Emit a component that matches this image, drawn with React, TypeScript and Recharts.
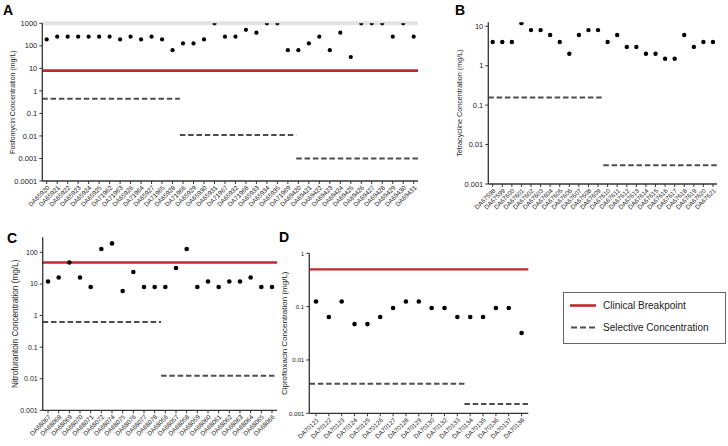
import React from "react";
import { ScatterChart, Scatter, XAxis, YAxis, ReferenceLine } from "recharts";

// ---- data (MIC values in mg/L) ----

const fosfoStrains = [
  "DA65920", "DA65921", "DA65922", "DA65923", "DA65924", "DA65925", "DA71962", "DA71963", "DA65926",
  "DA71964", "DA65927", "DA71965", "DA65928", "DA71966", "DA65929", "DA65930", "DA65931", "DA71967",
  "DA65932", "DA71968", "DA65933", "DA65934", "DA65935", "DA71969", "DA69420", "DA69421", "DA69422",
  "DA69423", "DA69424", "DA69425", "DA69426", "DA69427", "DA69428", "DA69429", "DA69430", "DA69431",
];
const fosfoMic = [
  192, 256, 256, 256, 256, 256, 256, 192, 256, 192, 256, 192, 64, 128, 128, 192, 1000, 256,
  256, 512, 384, 1000, 1000, 64, 64, 128, 256, 64, 384, 32, 1000, 1000, 1000, 256, 1000, 256,
];
const fosfoSelective = [
  { from: 0.5, to: 13.7, conc: 0.45 },
  { from: 13.7, to: 24.8, conc: 0.011 },
  { from: 24.8, to: 36.5, conc: 0.001 },
];
const fosfoBreakpoint = 8;
const fosfoCeiling = 1000;

const tetraStrains = [
  "DA67598", "DA67599", "DA67600", "DA67601", "DA67602", "DA67603", "DA67604", "DA67605",
  "DA67606", "DA67607", "DA67608", "DA67609", "DA67610", "DA67611", "DA67612", "DA67613",
  "DA67614", "DA67615", "DA67616", "DA67617", "DA67618", "DA67619", "DA67620", "DA67621",
];
const tetraMic = [4, 4, 4, 12, 8, 8, 6, 4, 2, 6, 8, 8, 4, 6, 3, 3, 2, 2, 1.5, 1.5, 6, 3, 4, 4];
const tetraSelective = [
  { from: 0.5, to: 12.55, conc: 0.155 },
  { from: 12.55, to: 24.5, conc: 0.003 },
];

const nitroStrains = [
  "DA68067", "DA68068", "DA68069", "DA68070", "DA68071", "DA68072", "DA68074", "DA68075",
  "DA68076", "DA68077", "DA68078", "DA68056", "DA68057", "DA68058", "DA68059", "DA68060",
  "DA68061", "DA68062", "DA68063", "DA68064", "DA68065", "DA68066",
];
const nitroMic = [12, 16, 48, 16, 8, 128, 192, 6, 24, 8, 8, 8, 32, 128, 8, 12, 8, 12, 12, 16, 8, 8];
const nitroSelective = [
  { from: 0.5, to: 11.6, conc: 0.63 },
  { from: 11.6, to: 22.5, conc: 0.0125 },
];
const nitroBreakpoint = 48;

const ciproStrains = [
  "DA70121", "DA70122", "DA70123", "DA70124", "DA70125", "DA70126", "DA70127", "DA70128", "DA70129",
  "DA70130", "DA70132", "DA70133", "DA70134", "DA70135", "DA70136", "DA70137", "DA70138",
];
const ciproMic = [
  0.125, 0.064, 0.125, 0.047, 0.047, 0.064, 0.094, 0.125, 0.125, 0.094, 0.094, 0.064, 0.064,
  0.064, 0.094, 0.094, 0.032,
];
const ciproSelective = [
  { from: 0.5, to: 12.55, conc: 0.0036 },
  { from: 12.55, to: 17.5, conc: 0.0015 },
];
const ciproBreakpoint = 0.5;

const legendItems = ["Clinical Breakpoint", "Selective Concentration"];

// ---- styling ----
const FONT = '"Liberation Sans", Arial, Helvetica, sans-serif';
const RED = "#c1272d";
const DASH = "#4d4d4d";
const AXIS = "#333";

type Segment = { from: number; to: number; conc: number };

interface PanelProps {
  strains: string[];
  mic: number[];
  selective: Segment[];
  breakpoint?: number;
  ceiling?: number;
  yLabel: string;
  yTicks: number[];
  yDomain: [number, number];
  xDomain: [number, number];
  left: number;
  top: number;
  width: number;
  height: number;
  marginTop: number;
  marginRight: number;
  yAxisWidth: number;
  xAxisHeight: number;
  labelOffset: number;
  tickFont: number;
  xTickFont: number;
  labelFont: number;
  dotR: number;
  redWidth: number;
}

function Panel(p: PanelProps) {
  const data = p.strains.map((s, i) => ({ x: i + 1, y: p.mic[i], strain: s }));
  const xTicks = p.strains.map((_, i) => i + 1);
  const clampX = (v: number) => Math.min(Math.max(v, p.xDomain[0]), p.xDomain[1]);

  return (
    <div style={{ position: "absolute", left: p.left, top: p.top }}>
      <ScatterChart
        width={p.width}
        height={p.height}
        margin={{ top: p.marginTop, right: p.marginRight, bottom: 0, left: 0 }}
        style={{ fontFamily: FONT }}
      >
        <XAxis
          type="number"
          dataKey="x"
          domain={p.xDomain}
          ticks={xTicks}
          interval={0}
          allowDataOverflow
          height={p.xAxisHeight}
          tickFormatter={(v: number) => p.strains[v - 1] ?? ""}
          angle={-45}
          textAnchor="end"
          tick={{ fontSize: p.xTickFont, fill: "#1a1a1a" }}
          tickSize={3}
          tickMargin={1}
          stroke={AXIS}
          axisLine={{ stroke: AXIS, strokeWidth: 1.3 }}
          tickLine={{ stroke: AXIS, strokeWidth: 1 }}
        />
        <YAxis
          type="number"
          dataKey="y"
          scale="log"
          domain={p.yDomain}
          ticks={p.yTicks}
          interval={0}
          allowDataOverflow
          width={p.yAxisWidth}
          tickFormatter={(v: number) => String(v)}
          tick={{ fontSize: p.tickFont, fill: "#1a1a1a" }}
          tickSize={3}
          tickMargin={2}
          stroke={AXIS}
          axisLine={{ stroke: AXIS, strokeWidth: 1.3 }}
          tickLine={{ stroke: AXIS, strokeWidth: 1 }}
          label={{
            value: p.yLabel,
            angle: -90,
            position: "insideLeft",
            offset: p.labelOffset,
            style: { textAnchor: "middle", fontSize: p.labelFont, fill: "#1a1a1a" },
          }}
        />
        {p.ceiling !== undefined && (
          <ReferenceLine y={p.ceiling} stroke="#e3e3e3" strokeWidth={4} />
        )}
        {p.breakpoint !== undefined && (
          <ReferenceLine y={p.breakpoint} stroke={RED} strokeWidth={p.redWidth} />
        )}
        {p.selective.map((s, i) => (
          <ReferenceLine
            key={i}
            segment={[
              { x: clampX(s.from), y: s.conc },
              { x: clampX(s.to), y: s.conc },
            ]}
            stroke={DASH}
            strokeWidth={2}
            strokeDasharray="5.5 2.8"
          />
        ))}
        <Scatter
          data={data}
          isAnimationActive={false}
          shape={(props: any) => <circle cx={props.cx} cy={props.cy} r={p.dotR} fill="#000" />}
        />
      </ScatterChart>
    </div>
  );
}

export default function App() {
  return (
    <div
      style={{
        position: "absolute",
        left: 0,
        top: 0,
        width: 728,
        height: 446,
        background: "#fff",
        fontFamily: FONT,
        overflow: "hidden",
      }}
    >
      <Panel
        strains={fosfoStrains}
        mic={fosfoMic}
        selective={fosfoSelective}
        breakpoint={fosfoBreakpoint}
        ceiling={fosfoCeiling}
        yLabel="Fosfomycin Concentration (mg/L)"
        yTicks={[0.0001, 0.001, 0.01, 0.1, 1, 10, 100, 1000]}
        yDomain={[0.0001, 1000]}
        xDomain={[0.58, 36.41]}
        left={0}
        top={0}
        width={425}
        height={215}
        marginTop={23.3}
        marginRight={7}
        yAxisWidth={42.3}
        xAxisHeight={34}
        labelOffset={12.7}
        tickFont={7.5}
        xTickFont={6.4}
        labelFont={7}
        dotR={2.1}
        redWidth={2.7}
      />
      <Panel
        strains={tetraStrains}
        mic={tetraMic}
        selective={tetraSelective}
        yLabel="Tetracycline Concentration (mg/L)"
        yTicks={[0.001, 0.01, 0.1, 1, 10]}
        yDomain={[0.001, 12.6]}
        xDomain={[0.54, 24.42]}
        left={440}
        top={0}
        width={288}
        height={215}
        marginTop={22.3}
        marginRight={11}
        yAxisWidth={48.3}
        xAxisHeight={31}
        labelOffset={19.3}
        tickFont={7.5}
        xTickFont={6.3}
        labelFont={7.2}
        dotR={2.2}
        redWidth={2.5}
      />
      <Panel
        strains={nitroStrains}
        mic={nitroMic}
        selective={nitroSelective}
        breakpoint={nitroBreakpoint}
        yLabel="Nitrofurantoin Concentration (mg/L)"
        yTicks={[0.001, 0.01, 0.1, 1, 10, 100]}
        yDomain={[0.001, 300]}
        xDomain={[0.5, 22.47]}
        left={0}
        top={220}
        width={285}
        height={226}
        marginTop={17.3}
        marginRight={8}
        yAxisWidth={42.7}
        xAxisHeight={35.7}
        labelOffset={15}
        tickFont={7}
        xTickFont={6.4}
        labelFont={8.2}
        dotR={2.3}
        redWidth={2.5}
      />
      <Panel
        strains={ciproStrains}
        mic={ciproMic}
        selective={ciproSelective}
        breakpoint={ciproBreakpoint}
        yLabel="Ciprofloxacin Concentration (mg/L)"
        yTicks={[0.001, 0.01, 0.1, 1]}
        yDomain={[0.001, 1]}
        xDomain={[0.48, 17.52]}
        left={270}
        top={220}
        width={265}
        height={226}
        marginTop={33.3}
        marginRight={6.7}
        yAxisWidth={39.3}
        xAxisHeight={32.7}
        labelOffset={14.3}
        tickFont={6.2}
        xTickFont={6.3}
        labelFont={8}
        dotR={2.3}
        redWidth={2.1}
      />
      <svg
        width={728}
        height={446}
        style={{ position: "absolute", left: 0, top: 0, pointerEvents: "none", fontFamily: FONT }}
      >
        <g fontWeight="bold" fontSize={14} fill="#000">
          <text x={3} y={15}>A</text>
          <text x={455} y={15}>B</text>
          <text x={7} y={243}>C</text>
          <text x={279} y={242}>D</text>
        </g>
        <rect x={563.5} y={292.5} width={162} height={51} fill="#fff" stroke="#666" strokeWidth={1} />
        <line x1={570} x2={596} y1={305.5} y2={305.5} stroke={RED} strokeWidth={2.6} />
        <line x1={571} x2={596} y1={327.5} y2={327.5} stroke={DASH} strokeWidth={2} strokeDasharray="6 3" />
        <text x={603} y={305.5} fontSize={10} fill="#222" dominantBaseline="central">
          {legendItems[0]}
        </text>
        <text x={603} y={327.5} fontSize={10} fill="#222" dominantBaseline="central">
          {legendItems[1]}
        </text>
      </svg>
    </div>
  );
}
